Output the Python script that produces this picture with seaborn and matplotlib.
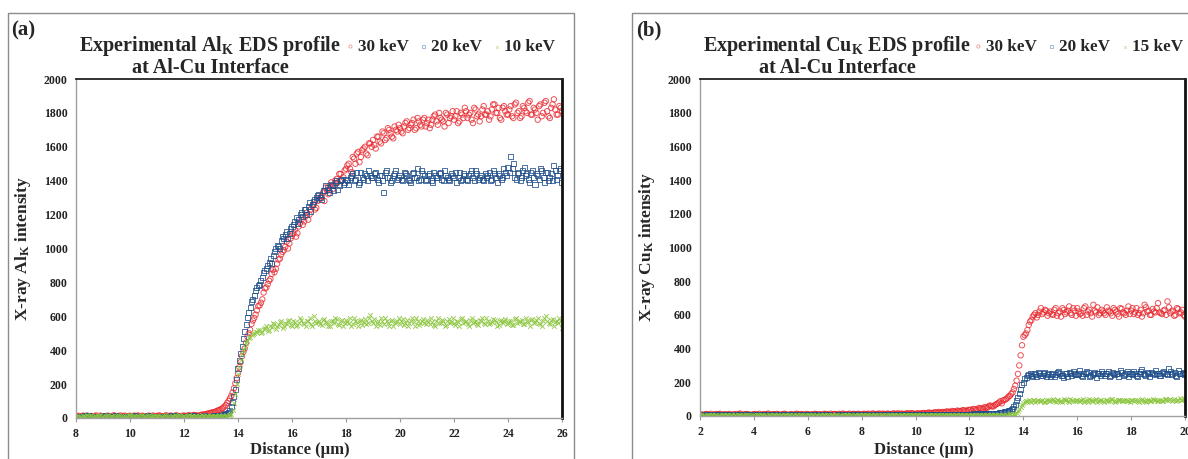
import numpy as np
import pandas as pd
import matplotlib
matplotlib.use("Agg")
import matplotlib.pyplot as plt
import seaborn as sns
from matplotlib.patches import Rectangle

# ---------------- data ----------------
# Panel (a): Al_K profile. Scan positions 8.0 .. 26.0 um (step 0.1) and the
# interleaved positions 8.05 .. 25.95 um.
dist_a = np.round(np.arange(8.0, 26.0001, 0.1), 2)
dist_a_mid = np.round(np.arange(8.05, 25.96, 0.1), 2)
al_30kev = [
    9, 13, 6, 11, 15, 7, 10, 12, 5, 14,
    11, 7, 13, 9, 16, 8, 12, 6, 14, 10,
    13, 8, 11, 15, 7, 12, 9, 14, 10, 8,
    12, 15, 9, 13, 8, 14, 11, 16, 10, 9,
    14, 11, 15, 12, 17, 13, 16, 19, 22, 26,
    30, 34, 40, 47, 55, 68, 88, 115, 150, 205,
    265, 330, 390, 445, 500, 555, 590, 635, 665, 700,
    765, 790, 820, 875, 880, 935, 965, 990, 1040, 1030,
    1075, 1110, 1090, 1150, 1140, 1190, 1170, 1230, 1260, 1240,
    1290, 1310, 1280, 1340, 1370, 1350, 1400, 1390, 1440, 1420,
    1470, 1500, 1450, 1530, 1560, 1510, 1580, 1600, 1550, 1620,
    1640, 1590, 1660, 1620, 1680, 1650, 1700, 1660, 1720, 1690,
    1710, 1680, 1740, 1700, 1730, 1760, 1710, 1750, 1720, 1770,
    1740, 1710, 1760, 1790, 1730, 1770, 1750, 1800, 1740, 1780,
    1760, 1810, 1750, 1790, 1830, 1770, 1800, 1740, 1820, 1790,
    1780, 1840, 1790, 1760, 1820, 1850, 1800, 1770, 1830, 1810,
    1790, 1840, 1770, 1860, 1810, 1780, 1830, 1800, 1870, 1790,
    1820, 1760, 1850, 1800, 1870, 1780, 1830, 1880, 1790, 1840, 1810,
]
al_30kev_mid = [
    11, 7, 14, 9, 6, 12, 10, 15, 8, 11,
    8, 13, 10, 6, 12, 9, 15, 11, 7, 12,
    10, 14, 6, 11, 13, 8, 12, 9, 15, 10,
    13, 9, 11, 16, 10, 12, 8, 14, 11, 13,
    12, 16, 13, 18, 14, 15, 20, 21, 25, 29,
    33, 36, 44, 50, 60, 76, 100, 130, 175, 235,
    300, 365, 410, 480, 520, 575, 610, 660, 680, 740,
    770, 810, 850, 860, 910, 940, 980, 1010, 1000, 1060,
    1090, 1070, 1130, 1170, 1160, 1210, 1200, 1250, 1230, 1280,
    1300, 1330, 1360, 1320, 1390, 1370, 1410, 1440, 1400, 1460,
    1490, 1470, 1540, 1500, 1570, 1540, 1590, 1560, 1620, 1600,
    1610, 1660, 1630, 1690, 1640, 1710, 1680, 1650, 1700, 1730,
    1690, 1720, 1750, 1710, 1740, 1700, 1770, 1730, 1760, 1720,
    1760, 1730, 1780, 1750, 1800, 1760, 1720, 1790, 1770, 1810,
    1780, 1740, 1800, 1770, 1810, 1790, 1760, 1830, 1780, 1750,
    1820, 1790, 1810, 1780, 1850, 1800, 1830, 1760, 1840, 1790,
    1820, 1780, 1850, 1800, 1770, 1840, 1810, 1860, 1790, 1830,
    1800, 1840, 1780, 1860, 1810, 1770, 1850, 1820, 1790, 1830,
]
al_20kev = [
    6, 10, 4, 12, 8, 5, 11, 7, 9, 3,
    8, 12, 5, 9, 7, 11, 4, 10, 6, 9,
    5, 11, 8, 6, 10, 4, 9, 12, 7, 5,
    10, 6, 9, 11, 5, 8, 12, 7, 4, 9,
    8, 11, 6, 9, 12, 7, 10, 5, 8, 11,
    9, 12, 10, 14, 16, 20, 28, 45, 90, 170,
    290, 380, 470, 550, 620, 690, 720, 770, 790, 830,
    870, 900, 940, 960, 1000, 1010, 1050, 1060, 1100, 1090,
    1130, 1160, 1150, 1200, 1190, 1230, 1250, 1220, 1280, 1300,
    1320, 1290, 1340, 1360, 1330, 1370, 1390, 1350, 1400, 1380,
    1410, 1380, 1430, 1400, 1450, 1390, 1420, 1440, 1400, 1430,
    1420, 1450, 1390, 1430, 1330, 1460, 1420, 1400, 1440, 1410,
    1430, 1400, 1440, 1410, 1390, 1450, 1420, 1400, 1460, 1430,
    1410, 1440, 1390, 1430, 1420, 1450, 1400, 1430, 1410, 1440,
    1420, 1390, 1450, 1410, 1430, 1400, 1440, 1420, 1460, 1410,
    1430, 1400, 1420, 1450, 1410, 1440, 1390, 1430, 1420, 1450,
    1480, 1540, 1500, 1410, 1450, 1420, 1480, 1440, 1390, 1460,
    1380, 1430, 1470, 1420, 1450, 1400, 1440, 1490, 1410, 1460, 1390,
]
al_20kev_mid = [
    7, 11, 5, 9, 12, 6, 8, 10, 4, 11,
    9, 5, 10, 7, 12, 6, 11, 8, 5, 10,
    7, 12, 9, 4, 11, 8, 6, 10, 9, 7,
    11, 8, 5, 10, 7, 12, 9, 6, 10, 8,
    10, 7, 12, 8, 11, 9, 6, 12, 10, 9,
    11, 13, 12, 15, 18, 24, 35, 65, 125, 230,
    340, 420, 510, 590, 650, 700, 750, 780, 810, 860,
    880, 920, 910, 980, 1020, 1000, 1070, 1080, 1060, 1120,
    1140, 1180, 1170, 1210, 1230, 1200, 1270, 1260, 1290, 1310,
    1300, 1340, 1370, 1350, 1380, 1340, 1400, 1370, 1410, 1390,
    1400, 1420, 1440, 1410, 1380, 1450, 1410, 1430, 1460, 1420,
    1440, 1410, 1430, 1400, 1450, 1420, 1390, 1430, 1460, 1420,
    1410, 1450, 1430, 1400, 1440, 1420, 1470, 1410, 1440, 1400,
    1430, 1400, 1450, 1420, 1440, 1410, 1460, 1420, 1400, 1430,
    1450, 1420, 1400, 1440, 1410, 1430, 1460, 1400, 1440, 1420,
    1410, 1440, 1430, 1400, 1460, 1420, 1440, 1410, 1470, 1430,
    1450, 1470, 1420, 1440, 1400, 1460, 1430, 1410, 1450, 1420,
    1440, 1410, 1460, 1390, 1450, 1420, 1400, 1460, 1430, 1470,
]
al_10kev = [
    8, 14, 5, 11, 17, 9, 6, 13, 10, 15,
    7, 12, 16, 9, 5, 14, 11, 8, 13, 10,
    15, 6, 12, 9, 14, 11, 7, 16, 10, 13,
    9, 12, 6, 15, 10, 8, 14, 11, 17, 7,
    12, 9, 15, 10, 13, 6, 11, 14, 8, 12,
    10, 13, 9, 15, 11, 14, 12, 18, 50, 140,
    260, 340, 400, 440, 470, 490, 500, 510, 520, 505,
    530, 515, 545, 560, 525, 550, 570, 540, 555, 580,
    545, 565, 550, 590, 560, 540, 575, 555, 600, 560,
    570, 550, 585, 560, 545, 575, 590, 555, 570, 540,
    580, 560, 545, 590, 565, 575, 550, 585, 560, 610,
    560, 545, 575, 590, 555, 570, 540, 580, 560, 575,
    555, 585, 560, 545, 575, 565, 590, 550, 570, 560,
    580, 555, 565, 545, 590, 560, 575, 550, 585, 565,
    560, 575, 545, 590, 565, 555, 580, 560, 570, 550,
    575, 560, 590, 555, 565, 580, 545, 570, 560, 585,
    560, 575, 550, 590, 565, 580, 555, 570, 545, 585,
    565, 590, 555, 575, 600, 560, 580, 545, 570, 590, 530,
]
al_10kev_mid = [
    11, 6, 14, 9, 12, 16, 7, 10, 13, 8,
    14, 10, 7, 13, 11, 16, 9, 12, 6, 15,
    9, 13, 11, 7, 16, 10, 14, 8, 12, 11,
    14, 8, 12, 10, 7, 13, 16, 9, 12, 10,
    8, 13, 11, 14, 9, 12, 15, 10, 13, 9,
    12, 10, 14, 11, 13, 10, 15, 25, 90, 200,
    300, 375, 420, 455, 480, 495, 505, 520, 500, 525,
    540, 520, 535, 555, 545, 565, 530, 560, 575, 550,
    570, 545, 560, 580, 555, 570, 590, 545, 575, 565,
    555, 580, 565, 540, 575, 560, 585, 550, 580, 560,
    565, 590, 555, 575, 545, 580, 565, 555, 590, 570,
    585, 560, 550, 570, 590, 560, 575, 545, 565, 590,
    570, 550, 580, 560, 590, 545, 575, 560, 585, 555,
    565, 590, 550, 575, 560, 580, 545, 570, 560, 590,
    550, 565, 585, 560, 575, 545, 590, 565, 555, 580,
    590, 555, 570, 560, 585, 565, 550, 580, 570, 555,
    570, 550, 585, 560, 575, 555, 590, 565, 580, 560,
    580, 560, 545, 590, 570, 555, 585, 565, 560, 575,
]

# Panel (b): Cu_K profile. Scan positions 2.0 .. 20.0 um (step 0.1) and the
# interleaved positions 2.05 .. 19.95 um.
dist_b = np.round(np.arange(2.0, 20.0001, 0.1), 2)
dist_b_mid = np.round(np.arange(2.05, 19.96, 0.1), 2)
cu_30kev = [
    8, 5, 11, 7, 13, 6, 9, 12, 4, 10,
    7, 12, 5, 10, 8, 14, 6, 11, 9, 5,
    10, 7, 13, 6, 9, 12, 5, 11, 8, 10,
    6, 12, 9, 5, 11, 7, 13, 8, 10, 6,
    11, 8, 5, 12, 9, 7, 13, 10, 6, 9,
    12, 7, 10, 14, 8, 11, 6, 13, 9, 12,
    9, 13, 11, 7, 15, 10, 12, 8, 14, 11,
    13, 10, 15, 12, 9, 14, 11, 16, 13, 15,
    12, 16, 14, 18, 15, 20, 17, 22, 19, 21,
    24, 20, 26, 23, 28, 25, 30, 27, 33, 29,
    35, 32, 40, 38, 45, 42, 50, 55, 60, 58,
    70, 80, 75, 95, 105, 120, 140, 180, 250, 360,
    470, 490, 540, 570, 600, 585, 620, 605, 630, 595,
    620, 600, 640, 610, 590, 630, 615, 650, 600, 625,
    640, 605, 595, 650, 620, 610, 660, 615, 600, 630,
    610, 645, 620, 595, 630, 605, 640, 615, 600, 650,
    625, 605, 640, 610, 590, 660, 620, 600, 635, 615,
    670, 610, 625, 600, 645, 620, 595, 640, 610, 630, 590,
]
cu_30kev_mid = [
    10, 6, 12, 8, 5, 11, 9, 13, 7, 10,
    9, 5, 11, 8, 13, 6, 10, 12, 7, 9,
    12, 8, 6, 11, 9, 14, 7, 10, 13, 8,
    9, 13, 7, 10, 6, 12, 9, 11, 8, 12,
    7, 10, 13, 8, 11, 6, 12, 9, 14, 10,
    10, 13, 8, 12, 9, 14, 11, 10, 13, 8,
    12, 10, 14, 9, 13, 11, 15, 12, 10, 14,
    11, 14, 12, 16, 13, 11, 15, 14, 17, 12,
    15, 13, 17, 16, 19, 18, 16, 21, 24, 20,
    22, 27, 24, 30, 26, 32, 28, 35, 31, 36,
    38, 42, 36, 48, 44, 52, 48, 62, 56, 66,
    75, 88, 92, 100, 115, 130, 160, 210, 300, 420,
    480, 510, 560, 590, 610, 600, 640, 615, 625, 610,
    605, 630, 595, 620, 640, 605, 625, 610, 640, 595,
    620, 610, 640, 600, 630, 590, 625, 645, 610, 620,
    600, 625, 610, 640, 620, 590, 635, 610, 625, 605,
    640, 615, 600, 630, 610, 645, 625, 600, 620, 640,
    615, 605, 630, 680, 610, 625, 600, 635, 615, 600,
]
cu_20kev = [
    5, 3, 7, 4, 6, 2, 8, 5, 3, 6,
    4, 7, 3, 5, 8, 4, 6, 2, 7, 5,
    6, 3, 5, 8, 4, 7, 2, 6, 5, 3,
    7, 4, 6, 3, 8, 5, 4, 7, 3, 6,
    5, 8, 3, 6, 4, 7, 5, 2, 6, 4,
    3, 6, 8, 4, 5, 7, 3, 6, 4, 8,
    6, 4, 7, 5, 3, 8, 6, 4, 7, 5,
    4, 7, 5, 8, 6, 3, 7, 5, 8, 6,
    7, 5, 8, 6, 9, 5, 7, 10, 6, 8,
    8, 6, 9, 7, 10, 8, 11, 9, 7, 10,
    9, 11, 8, 12, 10, 13, 11, 14, 12, 15,
    16, 18, 21, 24, 28, 34, 45, 70, 110, 160,
    200, 230, 245, 240, 255, 235, 250, 240, 260, 245,
    235, 255, 245, 265, 240, 230, 250, 260, 240, 255,
    245, 270, 235, 250, 260, 240, 255, 230, 250, 265,
    240, 255, 235, 260, 245, 250, 270, 240, 255, 235,
    250, 265, 240, 255, 275, 245, 260, 235, 250, 270,
    255, 240, 265, 250, 280, 245, 260, 235, 255, 250, 245,
]
cu_20kev_mid = [
    4, 6, 3, 7, 5, 4, 6, 3, 7, 4,
    6, 3, 5, 7, 4, 6, 3, 5, 8, 4,
    5, 7, 4, 6, 3, 5, 7, 4, 6, 5,
    3, 6, 5, 7, 4, 6, 3, 5, 7, 4,
    6, 4, 7, 3, 5, 6, 4, 7, 5, 3,
    5, 7, 4, 6, 3, 5, 7, 4, 6, 5,
    4, 6, 5, 7, 4, 6, 5, 3, 6, 7,
    6, 5, 7, 4, 6, 8, 5, 7, 6, 5,
    6, 8, 5, 7, 9, 6, 8, 7, 9, 6,
    9, 7, 10, 8, 9, 11, 8, 10, 9, 11,
    10, 12, 11, 13, 11, 12, 14, 13, 15, 14,
    17, 20, 22, 26, 31, 40, 55, 90, 135, 185,
    220, 240, 250, 235, 245, 260, 240, 250, 235, 255,
    245, 235, 260, 250, 240, 255, 235, 250, 265, 245,
    255, 240, 250, 265, 235, 245, 260, 250, 240, 255,
    250, 265, 240, 250, 255, 235, 260, 245, 265, 250,
    245, 255, 235, 265, 250, 240, 255, 260, 245, 255,
    240, 260, 250, 245, 265, 255, 240, 270, 250, 260,
]
cu_15kev = [
    3, 5, 2, 4, 6, 3, 5, 2, 4, 3,
    5, 2, 4, 6, 3, 5, 2, 4, 3, 6,
    2, 4, 5, 3, 6, 2, 4, 5, 3, 4,
    4, 6, 3, 5, 2, 4, 6, 3, 5, 2,
    5, 3, 4, 6, 2, 5, 3, 4, 6, 3,
    3, 5, 2, 4, 6, 3, 5, 2, 4, 5,
    6, 3, 5, 2, 4, 6, 3, 5, 4, 2,
    4, 5, 3, 6, 2, 4, 5, 3, 6, 4,
    3, 6, 4, 5, 2, 4, 6, 3, 5, 4,
    5, 3, 6, 4, 5, 3, 6, 4, 5, 3,
    4, 6, 5, 3, 6, 4, 5, 7, 4, 6,
    5, 7, 6, 8, 7, 9, 10, 14, 30, 55,
    78, 88, 92, 85, 95, 90, 88, 96, 84, 92,
    90, 98, 86, 94, 88, 100, 92, 85, 96, 89,
    94, 87, 99, 91, 85, 96, 90, 102, 88, 93,
    86, 95, 90, 98, 84, 92, 96, 88, 94, 91,
    97, 89, 93, 86, 100, 91, 95, 88, 98, 92,
    90, 96, 87, 102, 93, 89, 99, 94, 105, 96, 100,
]
cu_15kev_mid = [
    4, 2, 5, 3, 4, 6, 2, 5, 3, 4,
    3, 5, 4, 2, 6, 3, 4, 5, 2, 5,
    4, 3, 6, 4, 2, 5, 3, 6, 4, 2,
    5, 3, 4, 6, 3, 5, 2, 4, 6, 3,
    4, 6, 2, 5, 3, 4, 6, 2, 5, 4,
    4, 2, 5, 3, 6, 4, 2, 5, 3, 6,
    3, 5, 4, 6, 3, 5, 2, 4, 6, 3,
    5, 3, 6, 4, 3, 5, 4, 6, 3, 5,
    4, 5, 3, 6, 4, 5, 3, 6, 4, 5,
    4, 6, 3, 5, 4, 6, 5, 3, 6, 4,
    5, 4, 6, 5, 4, 6, 5, 6, 5, 7,
    6, 8, 7, 8, 9, 10, 12, 20, 42, 68,
    84, 90, 88, 92, 86, 94, 90, 86, 95, 88,
    93, 88, 97, 90, 84, 95, 91, 98, 87, 93,
    90, 95, 86, 93, 98, 88, 92, 86, 96, 90,
    94, 88, 99, 90, 87, 95, 89, 97, 91, 86,
    92, 96, 88, 94, 90, 86, 97, 91, 95, 89,
    95, 90, 98, 92, 100, 94, 88, 97, 92, 103,
]

labels_a = ["30 keV", "20 keV", "10 keV"]
labels_b = ["30 keV", "20 keV", "15 keV"]
yticks = list(range(0, 2001, 200))
xticks_a = list(range(8, 27, 2))
xticks_b = list(range(2, 21, 2))

# ---------------- style ----------------
sns.set_theme(style="white")
plt.rcParams["font.family"] = ["Liberation Serif", "DejaVu Serif"]
plt.rcParams["font.weight"] = "bold"
plt.rcParams["mathtext.fontset"] = "custom"
plt.rcParams["mathtext.rm"] = "Liberation Serif:bold"
plt.rcParams["mathtext.bf"] = "Liberation Serif:bold"
plt.rcParams["mathtext.it"] = "Liberation Serif:bold"

RED = "#E8282E"
BLUE = "#1F4E8A"
GREEN = "#8CC63F"

W, H = 1188, 459
fig = plt.figure(figsize=(W / 100, H / 100), dpi=100)


def fx(px):
    return px / W


def fy(py):
    return 1 - py / H


def make_panel(left_px, right_px, top_px, bot_px, dist, dist_mid, series,
               series_mid, labels, xticks, xlim, ylabel, title, tag, tag_px,
               title_cx, legend_right_px, ylabel_cx, xlabel_cx, border):
    ax = fig.add_axes([fx(left_px), fy(bot_px), fx(right_px - left_px),
                       (bot_px - top_px) / H])
    styles = [
        dict(marker="o", s=15, facecolor="none", edgecolor=RED, linewidth=0.7, alpha=0.8),
        dict(marker="s", s=13, facecolor="none", edgecolor=BLUE, linewidth=0.7, alpha=0.8),
        dict(marker="x", s=11, color=GREEN, linewidth=0.7, alpha=0.85),
    ]
    for vals, vals_mid, lab, st in zip(series, series_mid, labels, styles):
        df = pd.DataFrame({"Distance": np.concatenate([dist, dist_mid]),
                           "Intensity": np.concatenate([vals, vals_mid])})
        sns.scatterplot(data=df, x="Distance", y="Intensity", ax=ax, label=lab,
                        legend=False, **st)
    ax.set_xlim(*xlim)
    ax.set_ylim(0, 2000)
    ax.set_xticks(xticks)
    ax.set_yticks(yticks)
    ax.tick_params(axis="both", labelsize=8.5, colors="#222222")
    ax.tick_params(axis="x", length=3, width=0.8, color="#999999", pad=4,
                   direction="out", bottom=True)
    ax.tick_params(axis="y", length=0, pad=6, left=True)
    for t in ax.get_xticklabels() + ax.get_yticklabels():
        t.set_fontweight("bold")
    ax.spines["left"].set_color("#A0A0A0")
    ax.spines["left"].set_linewidth(1.0)
    ax.spines["bottom"].set_color("#A0A0A0")
    ax.spines["bottom"].set_linewidth(1.0)
    ax.spines["top"].set_color("#222222")
    ax.spines["top"].set_linewidth(1.3)
    ax.spines["right"].set_color("#111111")
    ax.spines["right"].set_linewidth(2.0)
    wpx = right_px - left_px
    hpx = bot_px - top_px
    ax.set_xlabel("Distance (\u00b5m)", fontsize=12, fontweight="bold", va="center")
    ax.xaxis.set_label_coords((xlabel_cx - left_px) / wpx, (bot_px - 450) / hpx)
    ax.set_ylabel(ylabel, fontsize=12.5, fontweight="bold", va="center")
    ax.yaxis.set_label_coords((ylabel_cx - left_px) / wpx, 0.5)
    # title
    fig.text(fx(title_cx), fy(56), title, ha="center", va="center",
             fontsize=14.5, fontweight="bold", linespacing=1.0)
    # panel tag
    fig.text(fx(tag_px[0]), fy(tag_px[1]), tag, ha="left", va="center",
             fontsize=15, fontweight="bold")
    # legend
    handles, labs = ax.get_legend_handles_labels()
    leg = fig.legend(handles, labs, loc="center right",
                     bbox_to_anchor=(fx(legend_right_px), fy(47)), ncol=3,
                     frameon=False, handlelength=0.25, handletextpad=0.3,
                     columnspacing=0.75, markerscale=0.6, borderaxespad=0,
                     borderpad=0, prop={"weight": "bold", "size": 12.3})
    for h in leg.legend_handles:
        h.set_alpha(0.55)
        h.set_linewidth(0.5)
    # panel border
    x0, y0, x1, y1 = border
    fig.add_artist(Rectangle((fx(x0), fy(y1)), fx(x1 - x0), (y1 - y0) / H,
                             transform=fig.transFigure, fill=False,
                             edgecolor="#8C8C8C", linewidth=1.0))
    return ax


make_panel(76, 562, 79, 418, dist_a, dist_a_mid,
           [al_30kev, al_20kev, al_10kev],
           [al_30kev_mid, al_20kev_mid, al_10kev_mid], labels_a,
           xticks_a, (8, 26), r"X-ray Al$_{\mathbf{K}}$ intensity",
           "Experimental Al$_{\\mathbf{K}}$ EDS profile\nat Al-Cu Interface",
           "(a)", (11, 30), 210, 555, 23, 300, (8, 13, 574, 470))

make_panel(700, 1185, 79, 416, dist_b, dist_b_mid,
           [cu_30kev, cu_20kev, cu_15kev],
           [cu_30kev_mid, cu_20kev_mid, cu_15kev_mid], labels_b,
           xticks_b, (2, 20), r"X-ray Cu$_{\mathbf{K}}$ intensity",
           "Experimental Cu$_{\\mathbf{K}}$ EDS profile\nat Al-Cu Interface",
           "(b)", (636, 30), 837, 1183, 647, 924, (632, 13, 1200, 470))

fig.savefig("out.png", dpi=100)
